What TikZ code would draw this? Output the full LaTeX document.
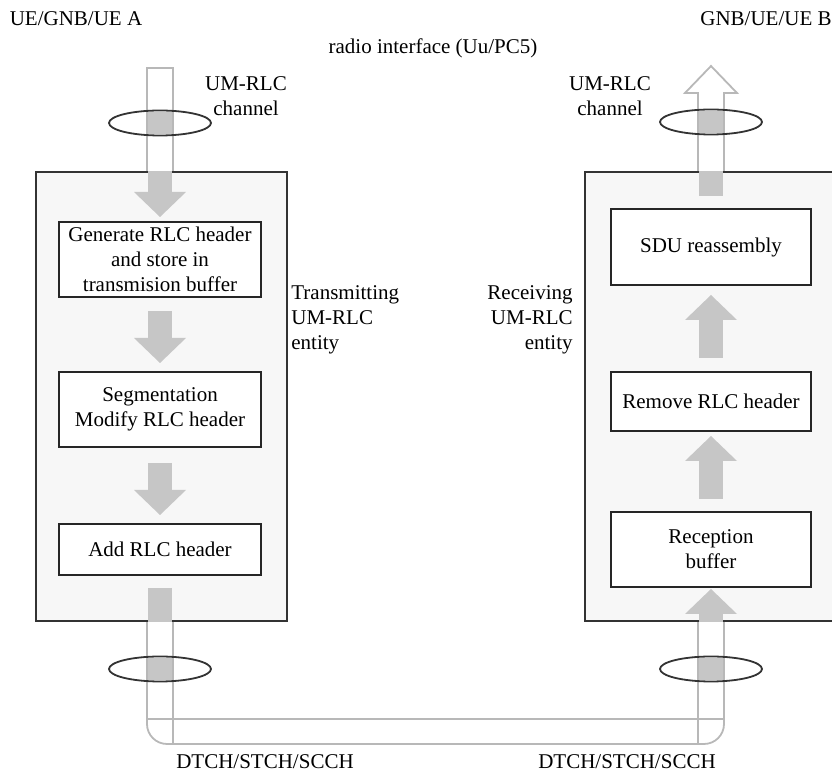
\documentclass[tikz,border=0pt]{standalone}
\usepackage{fontspec}
\setmainfont{Liberation Serif}
\usepackage{tikz}
\usetikzlibrary{positioning}
\usetikzlibrary{arrows.meta,shapes.geometric}
\usetikzlibrary{calc}
\definecolor{boxfill}{HTML}{F7F7F7}
\definecolor{blkgray}{HTML}{C6C6C6}
\definecolor{pipegray}{HTML}{B8B8B8}
\definecolor{rimgray}{HTML}{333333}
\tikzstyle{entity} = [draw=rimgray, line width=1.1pt, fill=boxfill, inner sep=0pt, minimum height=224.5pt]
\tikzstyle{func} = [draw=black!85, line width=1pt, fill=white, align=center, inner sep=0pt]
\tikzstyle{blk} = [draw=blkgray, line width=12pt, -{Triangle[width=26pt,length=12.5pt,line width=0pt]}]
\tikzstyle{shaft} = [draw=blkgray, line width=12pt]
\tikzstyle{pipe} = [draw=pipegray, line width=0.9pt]
\tikzstyle{ring} = [draw=rimgray, line width=0.9pt, ellipse, minimum width=51pt, minimum height=12.5pt, inner sep=0pt]
\tikzstyle{lbl} = [inner sep=0pt]

\begin{document}
\begin{tikzpicture}[x=0.5pt,y=-0.5pt,font=\fontsize{10.5pt}{12.5pt}\selectfont]
  \path[use as bounding box, clip] (0,0) rectangle (832,774);
  \def\w{13}
  \def\g{12}

  \node[entity, minimum width=125.5pt] (tx) at (161.5,396.5) {};
  \node[entity, minimum width=127.5pt] (rx) at (712.5,396.5) {};

  \node[func, minimum width=101pt, minimum height=37.5pt] (gen) at (160,259.5) {Generate RLC header\\and store in\\transmision buffer};
  \node[func, minimum width=101pt, minimum height=37.5pt, below=36.5pt of gen] (seg) {Segmentation\\Modify RLC header};
  \node[func, minimum width=101pt, minimum height=25.5pt, below=37.5pt of seg] (add) {Add RLC header};

  \node[func, minimum width=100pt, minimum height=38pt] (sdu) at (711,247) {SDU reassembly};
  \node[func, minimum width=100pt, minimum height=29.5pt, below=42.5pt of sdu] (rem) {Remove RLC header};
  \node[func, minimum width=100pt, minimum height=37.5pt, below=39.5pt of rem] (rec) {Reception\\buffer};

  \draw[blk] (tx.north -| gen.north) -- ([yshift=2pt]gen.north);
  \draw[blk] ([yshift=-6.5pt]gen.south) -- ([yshift=4pt]seg.north);
  \draw[blk] ([yshift=-7.5pt]seg.south) -- ([yshift=4pt]add.north);
  \draw[shaft] ([yshift=-6pt]add.south) -- (tx.south -| add.south);

  \draw[blk] (rx.south -| rec.south) -- ([yshift=-0.5pt]rec.south);
  \draw[blk] ([yshift=6pt]rec.north) -- ([yshift=-2pt]rem.south);
  \draw[blk] ([yshift=6.5pt]rem.north) -- ([yshift=-4.5pt]sdu.south);
  \draw[shaft] ([yshift=6pt]sdu.north) -- (rx.north -| sdu.north);

  \coordinate (inA) at (160,68);
  \coordinate (outB) at (711,66);
  \coordinate (botA) at (160,744);
  \coordinate (botB) at (711,744);

  \draw[pipe] ($(tx.north -| inA)+(-\w,0)$) -- ($(inA)+(-\w,0)$) -- ($(inA)+(\w,0)$) -- ($(tx.north -| inA)+(\w,0)$);
  \draw[pipe, fill=white] ($(rx.north -| outB)+(-\w,0)$) -- ($(outB)+(-\w,27)$) -- ($(outB)+(-26,27)$) -- (outB)
        -- ($(outB)+(26,27)$) -- ($(outB)+(\w,27)$) -- ($(rx.north -| outB)+(\w,0)$);
  \draw[pipe, rounded corners=10pt] ($(tx.south -| botA)+(-\w,0)$) |- ($(botB)+(\w,0)$) -- ($(rx.south -| botB)+(\w,0)$);
  \draw[pipe] ($(tx.south -| botA)+(\w,0)$) -- ($(botA)+(\w,0)$);
  \draw[pipe] ($(rx.south -| botB)+(-\w,0)$) -- ($(botB)+(-\w,0)$);
  \draw[pipe] ($(botA)+(-\w,-25)$) -- ($(botB)+(\w,-25)$);

  \coordinate (rA) at (160,123);
  \coordinate (rB) at (711,122);
  \coordinate (rC) at (160,669);
  \coordinate (rD) at (711,669);
  \fill[blkgray] ($(rA)+(-\g,-11)$) rectangle ($(rA)+(\g,11)$);
  \fill[blkgray] ($(rB)+(-\g,-11)$) rectangle ($(rB)+(\g,11)$);
  \fill[blkgray] ($(rC)+(-\g,-11)$) rectangle ($(rC)+(\g,11)$);
  \fill[blkgray] ($(rD)+(-\g,-11)$) rectangle ($(rD)+(\g,11)$);
  \node[ring] (ringA) at (rA) {};
  \node[ring] (ringB) at (rB) {};
  \node[ring] (ringC) at (rC) {};
  \node[ring] (ringD) at (rD) {};

  \node[lbl] (ueA) at (76,19) {UE/GNB/UE A};
  \node[lbl] (ueB) at (766,19) {GNB/UE/UE B};
  \node[lbl] (radio) at (433,48) {radio interface (Uu/PC5)};
  \node[lbl, align=center] (chA) at (246,96) {UM-RLC\\channel};
  \node[lbl, align=center] (chB) at (610,96) {UM-RLC\\channel};
  \node[lbl, align=left, anchor=west] (txl) at (291,320) {Transmitting\\UM-RLC\\entity};
  \node[lbl, align=right, anchor=east] (rxl) at (573,320) {Receiving\\UM-RLC\\entity};
  \node[lbl] (dtA) at (265,762) {DTCH/STCH/SCCH};
  \node[lbl] (dtB) at (627,762) {DTCH/STCH/SCCH};
\end{tikzpicture}
\end{document}
